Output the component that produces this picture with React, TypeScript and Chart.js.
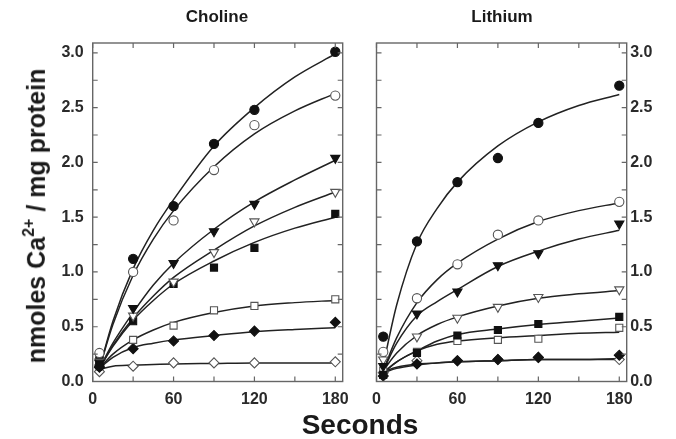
import React, { useEffect, useRef } from "react";
import { Chart, registerables } from "chart.js";

Chart.register(...registerables);

// ---------- data ----------
const X_TICKS = [0, 30, 60, 90, 120, 150, 180];
const X_LABELED = [0, 60, 120, 180];
const Y_TICKS = [0, 0.25, 0.5, 0.75, 1.0, 1.25, 1.5, 1.75, 2.0, 2.25, 2.5, 2.75, 3.0];
const Y_LABELED = [0, 0.5, 1.0, 1.5, 2.0, 2.5, 3.0];

const SAMPLE_TIMES = [5, 30, 60, 90, 120, 180];
const FIT_TIMES = [5, 15, 30, 45, 60, 90, 120, 150, 180];

// Choline panel — measured points
const cholineFilledCircle = [0.14, 1.12, 1.6, 2.17, 2.48, 3.01];
const cholineOpenCircle = [0.26, 1.0, 1.47, 1.93, 2.34, 2.61];
const cholineFilledTriangle = [0.17, 0.67, 1.08, 1.37, 1.62, 2.04];
const cholineOpenTriangle = [0.18, 0.6, 0.91, 1.18, 1.46, 1.73];
const cholineFilledSquare = [0.19, 0.55, 0.89, 1.04, 1.22, 1.53];
const cholineOpenSquare = [0.2, 0.38, 0.51, 0.65, 0.69, 0.75];
const cholineFilledDiamond = [0.13, 0.3, 0.37, 0.42, 0.46, 0.54];
const cholineOpenDiamond = [0.09, 0.14, 0.17, 0.17, 0.17, 0.18];

// Choline panel — fitted curves (read at FIT_TIMES)
const cholineFilledCircleFit = [0.12, 0.55, 1.03, 1.38, 1.66, 2.15, 2.5, 2.78, 2.99];
const cholineOpenCircleFit = [0.12, 0.52, 0.97, 1.3, 1.56, 1.96, 2.26, 2.47, 2.63];
const cholineFilledTriangleFit = [0.12, 0.35, 0.63, 0.88, 1.08, 1.39, 1.64, 1.84, 2.02];
const cholineOpenTriangleFit = [0.12, 0.33, 0.58, 0.78, 0.95, 1.2, 1.42, 1.59, 1.73];
const cholineFilledSquareFit = [0.12, 0.32, 0.56, 0.74, 0.89, 1.1, 1.27, 1.4, 1.5];
const cholineOpenSquareFit = [0.12, 0.25, 0.38, 0.47, 0.54, 0.63, 0.69, 0.72, 0.74];
const cholineFilledDiamondFit = [0.12, 0.22, 0.31, 0.35, 0.38, 0.42, 0.455, 0.475, 0.49];
const cholineOpenDiamondFit = [0.11, 0.14, 0.15, 0.155, 0.16, 0.165, 0.17, 0.17, 0.17];

// Lithium panel — measured points
const lithiumFilledCircle = [0.41, 1.28, 1.82, 2.04, 2.36, 2.7];
const lithiumOpenCircle = [0.27, 0.76, 1.07, 1.34, 1.47, 1.64];
const lithiumFilledTriangle = [0.14, 0.62, 0.82, 1.06, 1.17, 1.44];
const lithiumOpenTriangle = [0.2, 0.41, 0.58, 0.68, 0.77, 0.84];
const lithiumFilledSquare = [0.06, 0.26, 0.42, 0.47, 0.525, 0.59];
const lithiumOpenSquare = [0.1, 0.27, 0.37, 0.38, 0.39, 0.49];
const lithiumFilledDiamond = [0.05, 0.16, 0.19, 0.2, 0.22, 0.24];
const lithiumOpenDiamond = [0.08, 0.19, 0.19, 0.2, 0.22, 0.2];

// Lithium panel — fitted curves (read at FIT_TIMES)
const lithiumFilledCircleFit = [0.15, 0.7, 1.26, 1.58, 1.82, 2.15, 2.37, 2.52, 2.62];
const lithiumOpenCircleFit = [0.1, 0.4, 0.72, 0.93, 1.08, 1.3, 1.46, 1.56, 1.63];
const lithiumFilledTriangleFit = [0.1, 0.35, 0.6, 0.73, 0.84, 1.05, 1.19, 1.3, 1.38];
const lithiumOpenTriangleFit = [0.1, 0.26, 0.42, 0.52, 0.59, 0.69, 0.76, 0.8, 0.83];
const lithiumFilledSquareFit = [0.08, 0.18, 0.28, 0.37, 0.43, 0.48, 0.52, 0.55, 0.58];
const lithiumOpenSquareFit = [0.08, 0.18, 0.28, 0.34, 0.37, 0.4, 0.42, 0.44, 0.45];
const lithiumFilledDiamondFit = [0.08, 0.12, 0.15, 0.17, 0.18, 0.19, 0.2, 0.2, 0.21];
const lithiumOpenDiamondFit = [0.09, 0.13, 0.16, 0.17, 0.18, 0.19, 0.2, 0.2, 0.2];

// ---------- styles ----------
type Marker = { style: string; filled: boolean; radius: number; rotation: number };
const MARKERS: Marker[] = [
  { style: "circle", filled: true, radius: 4.6, rotation: 0 },
  { style: "circle", filled: false, radius: 4.6, rotation: 0 },
  { style: "triangle", filled: true, radius: 5.3, rotation: 180 },
  { style: "triangle", filled: false, radius: 5.3, rotation: 180 },
  { style: "rect", filled: true, radius: 5, rotation: 0 },
  { style: "rect", filled: false, radius: 5, rotation: 0 },
  { style: "rectRot", filled: true, radius: 5, rotation: 0 },
  { style: "rectRot", filled: false, radius: 5, rotation: 0 },
];

const FONT = '"Liberation Sans", Arial, Helvetica, sans-serif';
const INK = "#1a1a1a";
const FRAME = "#666";

const frameAndTicks = {
  id: "frameAndTicks",
  afterDatasetsDraw(chart: any) {
    const { ctx, chartArea, scales } = chart;
    const { left, right, top, bottom } = chartArea;
    const x = scales.x;
    const y = scales.y;
    ctx.save();
    ctx.strokeStyle = FRAME;
    ctx.lineWidth = 1.4;
    ctx.strokeRect(left, top, right - left, bottom - top);
    ctx.lineWidth = 1.2;
    ctx.beginPath();
    x.ticks.forEach((t: any) => {
      const px = x.getPixelForValue(t.value);
      ctx.moveTo(px, bottom);
      ctx.lineTo(px, bottom - 5);
      ctx.moveTo(px, top);
      ctx.lineTo(px, top + 5);
    });
    y.ticks.forEach((t: any) => {
      const py = y.getPixelForValue(t.value);
      ctx.moveTo(left, py);
      ctx.lineTo(left + 5, py);
      ctx.moveTo(right, py);
      ctx.lineTo(right - 5, py);
    });
    ctx.stroke();
    ctx.restore();
  },
};

function buildDatasets(points: number[][], fits: number[][]) {
  const ds: any[] = [];
  points.forEach((vals, i) => {
    const m = MARKERS[i];
    ds.push({
      data: SAMPLE_TIMES.map((t, k) => ({ x: t, y: vals[k] })),
      showLine: false,
      pointStyle: m.style,
      pointRadius: m.radius,
      pointRotation: m.rotation,
      pointBackgroundColor: m.filled ? "#111" : "#fff",
      pointBorderColor: m.filled ? "#111" : "#555",
      pointBorderWidth: 1.1,
      order: 0,
    });
  });
  fits.forEach((vals) => {
    ds.push({
      data: FIT_TIMES.map((t, k) => ({ x: t, y: vals[k] })),
      showLine: true,
      borderColor: "#222",
      borderWidth: 1.5,
      pointRadius: 0,
      cubicInterpolationMode: "monotone",
      order: 1,
    });
  });
  return ds;
}

function makeConfig(side: "left" | "right", points: number[][], fits: number[][]) {
  const isLeft = side === "left";
  return {
    type: "scatter",
    data: { datasets: buildDatasets(points, fits) },
    options: {
      responsive: false,
      animation: false,
      events: [],
      layout: {
        padding: isLeft
          ? { left: 0, top: 43, right: 17.3, bottom: 0 }
          : { left: 16.5, top: 43, right: 0, bottom: 0 },
      },
      plugins: { legend: { display: false }, tooltip: { enabled: false }, title: { display: false } },
      scales: {
        x: {
          type: "linear",
          min: 0,
          max: 185.5,
          grid: { display: false, drawTicks: false },
          border: { display: false },
          afterBuildTicks: (scale: any) => {
            scale.ticks = X_TICKS.map((value) => ({ value }));
          },
          afterFit: (scale: any) => {
            scale.height = 30.5;
          },
          ticks: {
            autoSkip: false,
            maxRotation: 0,
            padding: 8,
            color: "#2a2a2a",
            font: { family: FONT, size: 16, weight: "bold" },
            callback: (v: number) => (X_LABELED.includes(v) ? String(v) : ""),
          },
        },
        y: {
          type: "linear",
          position: isLeft ? "left" : "right",
          min: 0,
          max: 3.09,
          grid: { display: false, drawTicks: false },
          border: { display: false },
          afterBuildTicks: (scale: any) => {
            scale.ticks = Y_TICKS.map((value) => ({ value }));
          },
          afterFit: (scale: any) => {
            scale.width = isLeft ? 92.7 : 49.3;
          },
          ticks: {
            autoSkip: false,
            padding: isLeft ? 9 : 3.5,
            color: "#2a2a2a",
            font: { family: FONT, size: 16, weight: "bold" },
            callback: (v: number) =>
              Y_LABELED.some((l) => Math.abs(l - v) < 1e-9) ? v.toFixed(1) : "",
          },
        },
      },
    },
    plugins: [frameAndTicks],
  };
}

const CHOLINE_POINTS = [
  cholineFilledCircle,
  cholineOpenCircle,
  cholineFilledTriangle,
  cholineOpenTriangle,
  cholineFilledSquare,
  cholineOpenSquare,
  cholineFilledDiamond,
  cholineOpenDiamond,
];
const CHOLINE_FITS = [
  cholineFilledCircleFit,
  cholineOpenCircleFit,
  cholineFilledTriangleFit,
  cholineOpenTriangleFit,
  cholineFilledSquareFit,
  cholineOpenSquareFit,
  cholineFilledDiamondFit,
  cholineOpenDiamondFit,
];
const LITHIUM_POINTS = [
  lithiumFilledCircle,
  lithiumOpenCircle,
  lithiumFilledTriangle,
  lithiumOpenTriangle,
  lithiumFilledSquare,
  lithiumOpenSquare,
  lithiumFilledDiamond,
  lithiumOpenDiamond,
];
const LITHIUM_FITS = [
  lithiumFilledCircleFit,
  lithiumOpenCircleFit,
  lithiumFilledTriangleFit,
  lithiumOpenTriangleFit,
  lithiumFilledSquareFit,
  lithiumOpenSquareFit,
  lithiumFilledDiamondFit,
  lithiumOpenDiamondFit,
];

const textBase: React.CSSProperties = {
  position: "absolute",
  fontFamily: FONT,
  fontWeight: "bold",
  color: INK,
  whiteSpace: "nowrap",
  lineHeight: 1,
};

export default function App() {
  const leftRef = useRef<HTMLCanvasElement>(null);
  const rightRef = useRef<HTMLCanvasElement>(null);

  useEffect(() => {
    const a = new Chart(leftRef.current as any, makeConfig("left", CHOLINE_POINTS, CHOLINE_FITS) as any);
    const b = new Chart(rightRef.current as any, makeConfig("right", LITHIUM_POINTS, LITHIUM_FITS) as any);
    return () => {
      a.destroy();
      b.destroy();
    };
  }, []);

  return (
    <div
      style={{
        position: "fixed",
        left: 0,
        top: 0,
        width: 676,
        height: 439,
        background: "#fff",
        overflow: "hidden",
      }}
    >
      <canvas
        ref={leftRef}
        width={360}
        height={412}
        style={{ position: "absolute", left: 0, top: 0, width: 360, height: 412 }}
      />
      <canvas
        ref={rightRef}
        width={316}
        height={412}
        style={{ position: "absolute", left: 360, top: 0, width: 316, height: 412 }}
      />
      <div style={{ ...textBase, fontSize: 17, left: 217, top: 16, transform: "translate(-50%, -50%)" }}>
        Choline
      </div>
      <div style={{ ...textBase, fontSize: 17, left: 502, top: 16, transform: "translate(-50%, -50%)" }}>
        Lithium
      </div>
      <div
        style={{
          ...textBase,
          fontSize: 25,
          left: 35,
          top: 216,
          transform: "translate(-50%, -50%) rotate(-90deg)",
        }}
      >
        nmoles Ca<sup style={{ fontSize: 16, verticalAlign: "0.7em" }}>2+</sup> / mg protein
      </div>
      <div style={{ ...textBase, fontSize: 28, left: 360, top: 425, transform: "translate(-50%, -50%)" }}>
        Seconds
      </div>
    </div>
  );
}
